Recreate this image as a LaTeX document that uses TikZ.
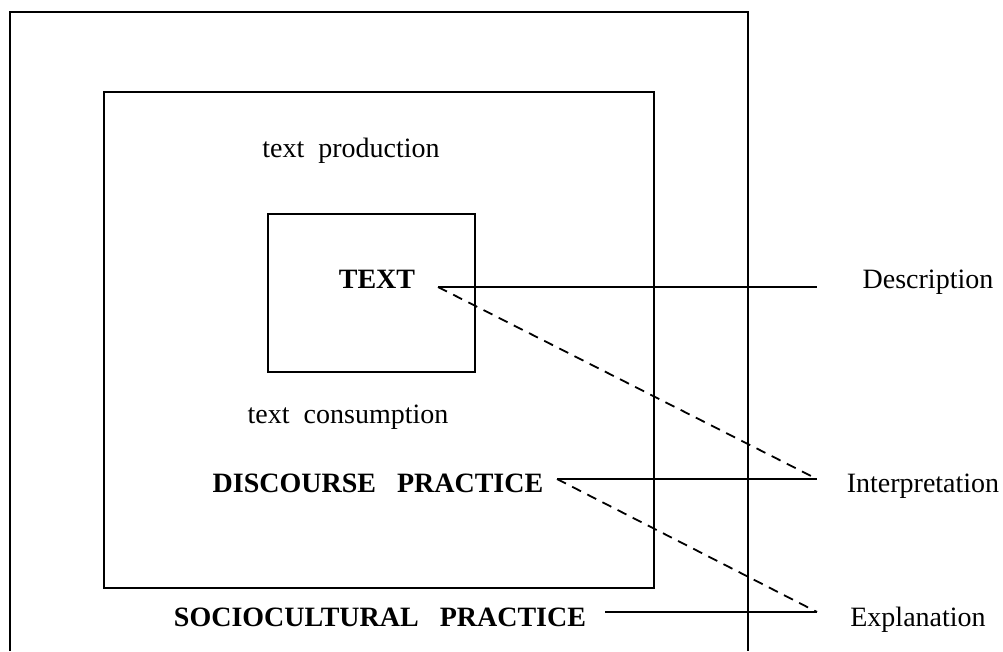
\documentclass[tikz,border=0pt]{standalone}
\usepackage{fontspec}
\setmainfont{Liberation Serif}
\usetikzlibrary{positioning}

\tikzset{
  frame/.style={draw=black, line width=1.8pt},
  lbl/.style={font=\fontsize{28}{32}\selectfont, inner sep=0pt, anchor=base},
  caplbl/.style={lbl, font=\fontsize{28}{32}\selectfont\bfseries},
  link/.style={draw=black, line width=1.8pt},
  dashlink/.style={link, dash pattern=on 10pt off 7pt}
}

\begin{document}
\begin{tikzpicture}[x=1pt, y=-1pt]
        \useasboundingbox (0,0) rectangle (1003,651);

        % Boxes
        \draw[frame] (10,651) -- (10,12) -- (748,12) -- (748,651);
        \draw[frame] (104,92) rectangle (654,588);
        \draw[frame] (268,214) rectangle (475,372);

        % Nodes
        \node[lbl] (prod) at (351,157) {text\ \ production};
        \node[caplbl] (txt) at (377,288) {TEXT};
        \node[lbl] (cons) at (348,423) {text\ \ consumption};
        \node[caplbl] (disc) at (378,492) {DISCOURSE\ \ \ PRACTICE};
        \node[caplbl] (socio) at (380,626) {SOCIOCULTURAL\ \ \ PRACTICE};

        \node[lbl] (desc) at (928,288) {Description};
        \node[lbl] (interp) at (923,492) {Interpretation};
        \node[lbl] (expl) at (918,626) {Explanation};

        % Line ends
        \coordinate (txtend) at (438,287);
        \coordinate (discend) at (557,479);
        \coordinate (socioend) at (605,612);
        \coordinate (descend) at (817,287);
        \coordinate (interpend) at (817,479);
        \coordinate (explend) at (817,612);

        % Arrows
        \draw[link] (txtend) -- (descend);
        \draw[link] (discend) -- (interpend);
        \draw[link] (socioend) -- (explend);
        \draw[dashlink] (txtend) -- (interpend);
        \draw[dashlink] (discend) -- (explend);
    \end{tikzpicture}
\end{document}
